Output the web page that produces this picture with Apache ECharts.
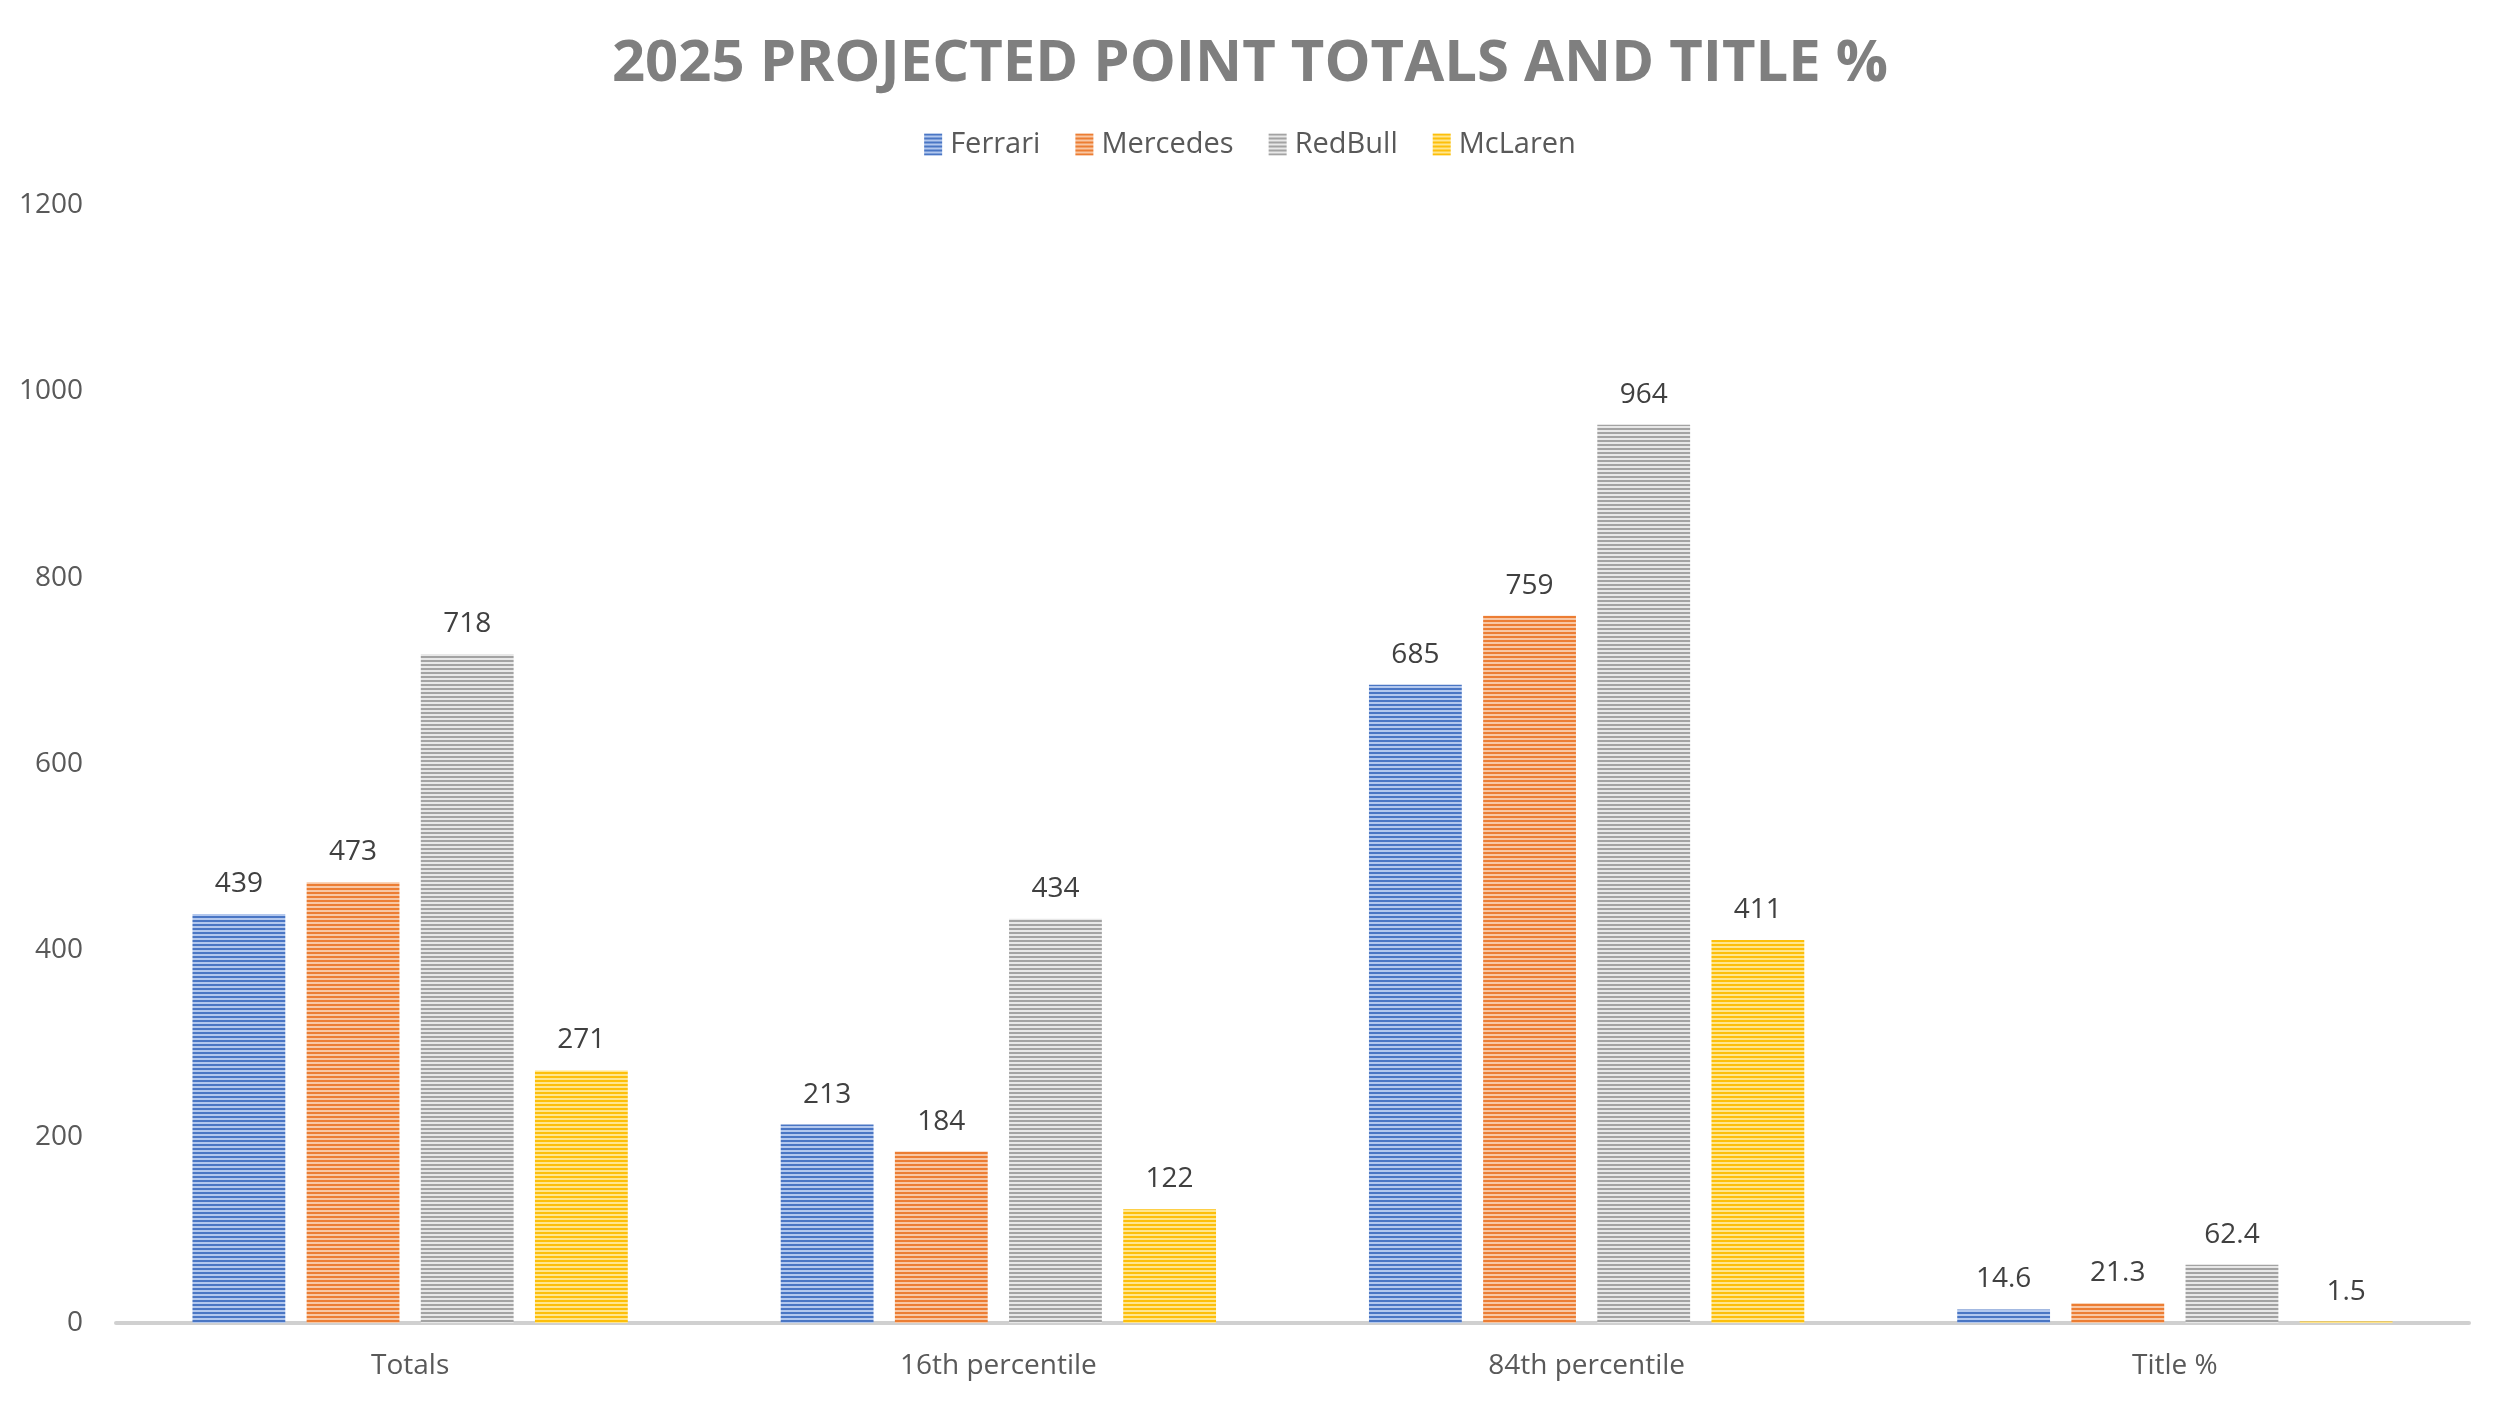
<!DOCTYPE html>
<html>
<head>
<meta charset="utf-8">
<script src="https://cdn.jsdelivr.net/npm/echarts@6/dist/echarts.min.js"></script>
<style>
  html, body { margin: 0; padding: 0; background: #fff; }
  #chart { width: 2500px; height: 1402px; }
</style>
</head>
<body>
<div id="chart"></div>
<script>
// chart data
var categories = ['Totals', '16th percentile', '84th percentile', 'Title %'];
var teams = ['Ferrari', 'Mercedes', 'RedBull', 'McLaren'];
var ferrari = [439, 213, 685, 14.6];
var mercedes = [473, 184, 759, 21.3];
var redbull = [718, 434, 964, 62.4];
var mclaren = [271, 122, 411, 1.5];
var yTicks = { min: 0, max: 1200, interval: 200 };

// dark / light stripe colours per team
var stripes = [
  ['#4a76c4', '#b3c8ee'],
  ['#ec7d33', '#f8c7a4'],
  ['#a3a3a3', '#e8e8e8'],
  ['#fdbf0a', '#ffe68f']
];

function stripePattern(dark, light) {
  var c = document.createElement('canvas');
  c.width = 8;
  c.height = 4;
  var ctx = c.getContext('2d');
  ctx.fillStyle = dark;
  ctx.fillRect(0, 0, 8, 4);
  ctx.fillStyle = light;
  ctx.fillRect(0, 2, 8, 2);
  return { image: c, repeat: 'repeat' };
}

var font = '"Open Sans", "Noto Sans", sans-serif';
var values = [ferrari, mercedes, redbull, mclaren];

var series = teams.map(function (name, i) {
  return {
    name: name,
    type: 'bar',
    data: values[i],
    barGap: '23%',
    barCategoryGap: '26%',
    itemStyle: { color: stripePattern(stripes[i][0], stripes[i][1]) },
    label: {
      show: true,
      position: 'top',
      distance: 16,
      color: '#404040',
      fontSize: 28,
      fontFamily: font
    }
  };
});

var chart = echarts.init(document.getElementById('chart'));
var option = {
  animation: false,
  backgroundColor: '#ffffff',
  title: {
    text: '2025 PROJECTED POINT TOTALS AND TITLE %',
    left: 'center',
    top: 30,
    textStyle: {
      color: '#7f7f7f',
      fontSize: 58,
      fontWeight: 'bold',
      fontFamily: font
    }
  },
  legend: {
    top: 125,
    left: 'center',
    itemWidth: 18,
    itemHeight: 22,
    itemGap: 35,
    icon: 'rect',
    textStyle: { color: '#595959', fontSize: 29, fontFamily: font, padding: [0, 0, 0, 3] }
  },
  grid: { left: 116, right: 31, top: 205, bottom: 79, containLabel: false },
  xAxis: {
    type: 'category',
    data: categories,
    axisLine: { lineStyle: { color: '#d0d0d0', width: 4 } },
    axisTick: { show: false },
    axisLabel: { color: '#595959', fontSize: 28, fontFamily: font, margin: 29 }
  },
  yAxis: {
    type: 'value',
    min: yTicks.min,
    max: yTicks.max,
    interval: yTicks.interval,
    splitLine: { show: false },
    axisLine: { show: false },
    axisTick: { show: false },
    axisLabel: {
      color: '#595959',
      fontSize: 28,
      fontFamily: font,
      margin: 33,
      formatter: function (v) { return String(v); }
    }
  },
  series: series
};
chart.setOption(option);
</script>
</body>
</html>
